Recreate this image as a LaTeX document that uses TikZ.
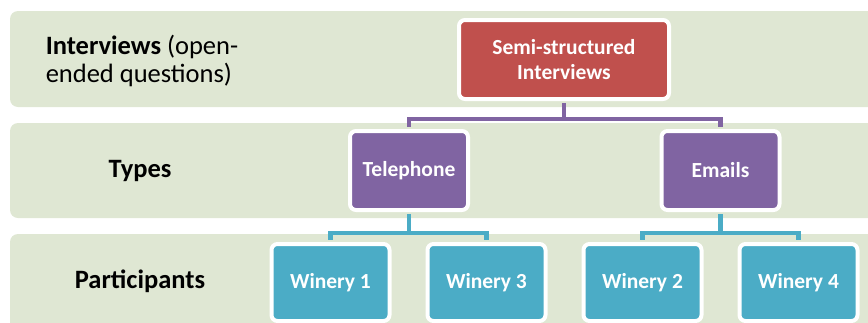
\documentclass[tikz,border=0pt]{standalone}
\usepackage{fontspec}
\setmainfont{Carlito}
\usepackage{xcolor}
\definecolor{bandgreen}{HTML}{DFE7D3}
\definecolor{boxred}{HTML}{C0504D}
\definecolor{boxpurple}{HTML}{8064A2}
\definecolor{boxblue}{HTML}{4BACC6}

\begin{document}
\begin{tikzpicture}[x=1pt, y=-1pt,
  band/.style={fill=bandgreen, rounded corners=8pt},
  lvl/.style={font=\fontsize{26.5}{27.5}\selectfont, text=black},
  box/.style={draw=white, line width=4pt, rounded corners=6pt, text=white,
    font=\fontsize{21.5}{24.5}\selectfont\bfseries, align=center, inner sep=0pt,
    minimum width=118pt, minimum height=79pt},
  link/.style={line width=4.5pt, shorten <=2pt, shorten >=2pt}]
\useasboundingbox (0,0) rectangle (868,322);
% Bands
\fill[band] (10,11) rectangle (884,107);
\fill[band] (10,123) rectangle (884,218);
\fill[band] (10,234) rectangle (884,340);
% Level labels
\node[lvl, align=left] (lblint) at (142,61) {\textbf{Interviews} (open-\\ended questions)};
\node[lvl, font=\fontsize{26.5}{27.5}\selectfont\bfseries] (lbltypes) at (140,171) {Types};
\node[lvl, font=\fontsize{26.5}{27.5}\selectfont\bfseries] (lblpart) at (140,281) {Participants};
% Boxes
\node[box, fill=boxred, minimum width=210pt] (semi) at (564,59.5) {Semi-structured\\Interviews};
\node[box, fill=boxpurple] (tel) at (409,170.5) {Telephone};
\node[box, fill=boxpurple] (email) at (720.5,170.5) {Emails};
\node[box, fill=boxblue, minimum height=77pt] (win1) at (330.5,282.5) {Winery 1};
\node[box, fill=boxblue, minimum height=77pt] (win3) at (486.5,282.5) {Winery 3};
\node[box, fill=boxblue, minimum height=77pt] (win2) at (642.5,282.5) {Winery 2};
\node[box, fill=boxblue, minimum height=77pt] (win4) at (798.5,282.5) {Winery 4};
% Connectors
\draw[link, boxpurple] (semi.south) -- ++(0,18) -| (tel.north);
\draw[link, boxpurple] (semi.south) -- ++(0,18) -| (email.north);
\draw[link, boxblue] (tel.south) -- ++(0,21) -| (win1.north);
\draw[link, boxblue] (tel.south) -- ++(0,21) -| (win3.north);
\draw[link, boxblue] (email.south) -- ++(0,21) -| (win2.north);
\draw[link, boxblue] (email.south) -- ++(0,21) -| (win4.north);
\end{tikzpicture}
\end{document}
